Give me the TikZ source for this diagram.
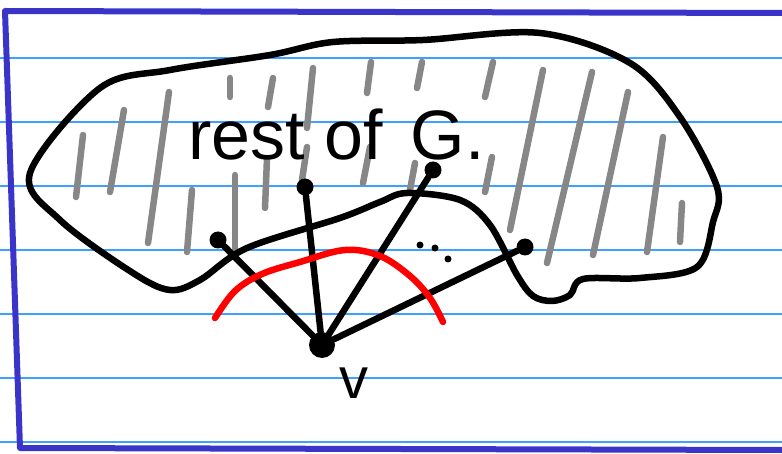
\documentclass[tikz,border=0pt]{standalone}
\usepackage{fontspec}
\setmainfont{Liberation Sans}
\usepackage{xcolor}
\usetikzlibrary{positioning}

\definecolor{ruleblue}{RGB}{62,160,255}
\definecolor{frameblue}{RGB}{58,53,200}
\definecolor{hatchgray}{RGB}{135,135,135}

\begin{document}
\begin{tikzpicture}[
  x=1pt, y=-1pt,
  line cap=round, line join=round,
  rule/.style={draw=ruleblue, line width=1.6pt},
  frame/.style={draw=frameblue, line width=6pt},
  blob/.style={draw=black, line width=6.5pt},
  hatch/.style={draw=hatchgray, line width=6.5pt},
  edge/.style={draw=black, line width=6.5pt},
  vert/.style={circle, fill=black, inner sep=0pt, minimum size=17pt},
  tiny/.style={circle, fill=black, inner sep=0pt, minimum size=7pt},
  cut/.style={draw=red, line width=6.5pt},
  lbl/.style={inner sep=0pt, font=\fontsize{70}{70}\selectfont},
]
\useasboundingbox (0,0) rectangle (782,454);

% ruled paper
\foreach \y in {58,122,186,250,314,378,442}
  \draw[rule] (0,\y) -- (782,\y);

% page margin
\draw[frame] (782,13) -- (5,11) -- (20,448) -- (782,450);

% hatching of the rest of the graph
\foreach \p/\q in {{83,135}/{76,197}, {124,110}/{110,192}, {169,92}/{148,243},
    {230,78}/{230,97}, {273,78}/{268,107}, {313,68}/{307,128},
    {371,62}/{367,93}, {307,147}/{302,180}, {370,147}/{363,183},
    {267,158}/{265,208}, {235,175}/{235,252}, {192,190}/{187,252},
    {422,62}/{417,88}, {493,62}/{485,97}, {543,70}/{510,230},
    {592,72}/{547,263}, {628,92}/{593,255}, {663,137}/{647,252},
    {682,203}/{680,242}, {415,163}/{410,190}, {492,157}/{485,192}}
  \draw[hatch] (\p) -- (\q);

% outline of G
\draw[blob] plot[smooth cycle, tension=0.55] coordinates {
  (30,173) (100,88) (170,70) (270,55) (333,42) (423,40) (540,33)
  (630,63) (680,117) (717,187) (713,222) (697,267) (640,278) (583,279)
  (570,295) (552,301) (533,296) (517,275) (490,225) (460,200) (407,193)
  (380,202) (340,218) (247,248) (200,280) (170,290) (133,273) (60,220)};

% the vertex v and its neighbours
\node[vert, minimum size=26pt] (v) at (322,345) {};
\node[vert] (a) at (218,240) {};
\node[vert] (b) at (305,187) {};
\node[vert] (c) at (433,170) {};
\node[vert] (d) at (525,247) {};

\draw[edge] (v) -- (a);
\draw[edge] (v) -- (b);
\draw[edge] (v) -- (c);
\draw[edge] (v) -- (d);

% dots between c and d
\node[tiny] (d1) at (420,245) {};
\node[tiny] (d2) at (435,248) {};
\node[tiny] (d3) at (448,259) {};

% the cut
\draw[cut] plot[smooth, tension=0.6] coordinates {
  (215,318) (235,291) (262,274) (300,262) (345,250) (380,256)
  (410,276) (430,298) (443,322)};

% labels
\node[lbl, anchor=base west] (rest) at (188,160) {rest of\hspace{28pt}G.};
\node[lbl, font=\fontsize{58}{58}\selectfont, anchor=base] (vlbl) at (354,398) {v};

\end{tikzpicture}
\end{document}
